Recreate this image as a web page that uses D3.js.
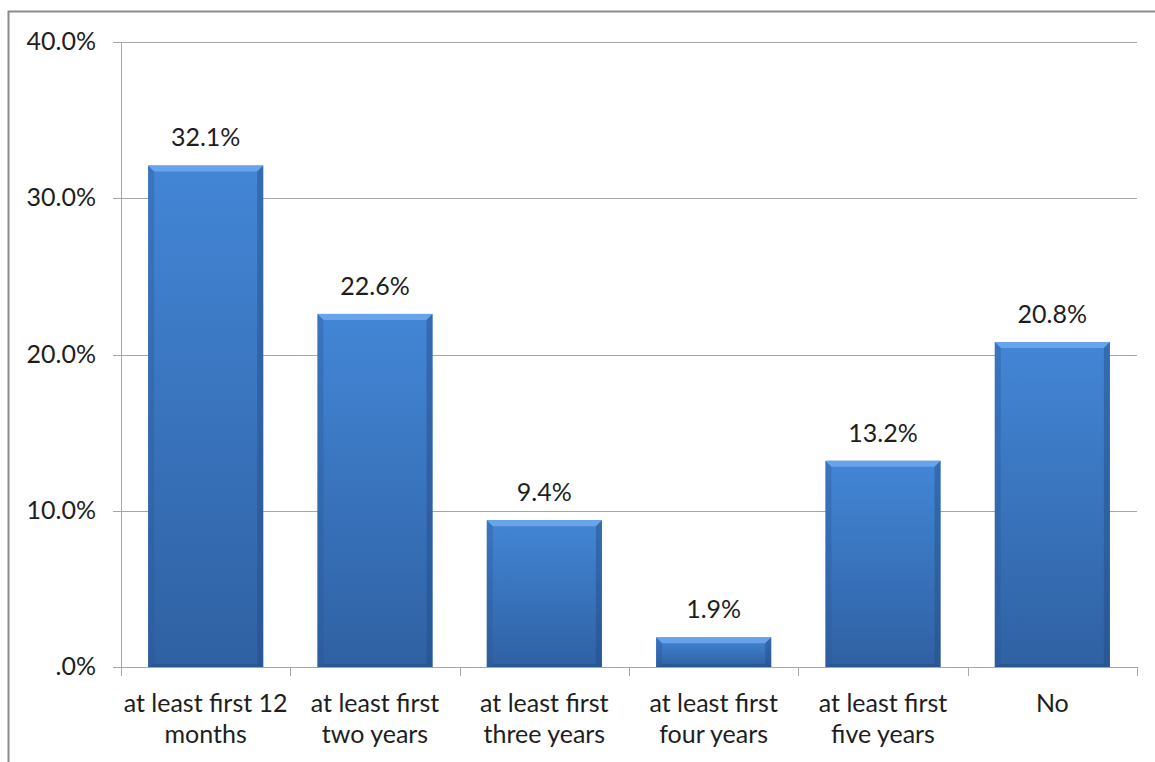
<!DOCTYPE html>
<html>
<head>
<meta charset="utf-8">
<script src="https://d3js.org/d3.v7.min.js"></script>
<style>
  body { margin: 0; background: #fff; }
  text { font-family: Lato, "Open Sans", sans-serif; fill: #1e1e1e; }
</style>
</head>
<body>
<div id="chart"></div>
<script>
const categories = [
  ["at least first 12", "months"],
  ["at least first", "two years"],
  ["at least first", "three years"],
  ["at least first", "four years"],
  ["at least first", "five years"],
  ["No"]
];
const values = [32.1, 22.6, 9.4, 1.9, 13.2, 20.8];
const tickValues = [0, 10, 20, 30, 40];
const tickLabels = [".0%", "10.0%", "20.0%", "30.0%", "40.0%"];

const w = 1155, h = 762;
const plotLeft = 121, plotRight = 1137, plotTop = 42, plotBottom = 667;
const fontSize = "25px";

const svg = d3.select("#chart").append("svg")
  .attr("width", w)
  .attr("height", h);

// chart frame (cropped at right/bottom)
svg.append("path")
  .attr("d", "M8.5," + h + " V11.5 H" + w)
  .attr("fill", "none")
  .attr("stroke", "#8c8c8c")
  .attr("stroke-width", 2);

const x = d3.scaleBand()
  .domain(d3.range(values.length))
  .range([plotLeft, plotRight])
  .paddingInner(0.32)
  .paddingOuter(0.16);

const y = d3.scaleLinear()
  .domain([0, 40])
  .range([plotBottom, plotTop]);

const defs = svg.append("defs");
const grad = defs.append("linearGradient")
  .attr("id", "barGrad")
  .attr("x1", 0).attr("y1", 0).attr("x2", 0).attr("y2", 1);
grad.append("stop").attr("offset", "0%").attr("stop-color", "#4386d6");
grad.append("stop").attr("offset", "100%").attr("stop-color", "#2f61a3");

// gridlines
svg.append("g").selectAll("line")
  .data(tickValues)
  .enter().append("line")
  .attr("x1", plotLeft - 8)
  .attr("x2", plotRight)
  .attr("y1", d => Math.round(y(d)) + 0.5)
  .attr("y2", d => Math.round(y(d)) + 0.5)
  .attr("stroke", "#a6a6a6")
  .attr("stroke-width", 1);

// y axis line
svg.append("line")
  .attr("x1", plotLeft + 0.5).attr("x2", plotLeft + 0.5)
  .attr("y1", plotTop).attr("y2", plotBottom + 0.5)
  .attr("stroke", "#a6a6a6");

// y labels
svg.append("g").selectAll("text")
  .data(tickValues)
  .enter().append("text")
  .attr("x", 96)
  .attr("y", d => y(d) + 8)
  .attr("text-anchor", "end")
  .style("font-size", fontSize)
  .text((d, i) => tickLabels[i]);

// x tick marks at category boundaries
const bounds = d3.range(values.length + 1).map(i => plotLeft + i * (plotRight - plotLeft) / values.length);
svg.append("g").selectAll("line")
  .data(bounds)
  .enter().append("line")
  .attr("x1", d => Math.round(d) + 0.5)
  .attr("x2", d => Math.round(d) + 0.5)
  .attr("y1", plotBottom)
  .attr("y2", plotBottom + 9)
  .attr("stroke", "#a6a6a6");

// bars
const bars = svg.append("g").selectAll("g")
  .data(values)
  .enter().append("g");

bars.append("rect")
  .attr("x", (d, i) => x(i))
  .attr("y", d => y(d))
  .attr("width", x.bandwidth())
  .attr("height", d => plotBottom - y(d))
  .attr("fill", "url(#barGrad)");

const bev = 6;
// top bevel
bars.append("polygon")
  .attr("points", (d, i) => {
    const x0 = x(i), x1 = x(i) + x.bandwidth(), yt = y(d);
    return [[x0, yt], [x1, yt], [x1 - bev, yt + bev], [x0 + bev, yt + bev]].join(" ");
  })
  .attr("fill", "#6ea8ee")
  .attr("opacity", 0.85);
// left bevel
bars.append("polygon")
  .attr("points", (d, i) => {
    const x0 = x(i), yt = y(d);
    return [[x0, yt], [x0 + bev, yt + bev], [x0 + bev, plotBottom - 3], [x0, plotBottom]].join(" ");
  })
  .attr("fill", "#2a5694")
  .attr("opacity", 0.35);
// right bevel
bars.append("polygon")
  .attr("points", (d, i) => {
    const x1 = x(i) + x.bandwidth(), yt = y(d);
    return [[x1, yt], [x1 - bev, yt + bev], [x1 - bev, plotBottom - 3], [x1, plotBottom]].join(" ");
  })
  .attr("fill", "#234b84")
  .attr("opacity", 0.45);
// bottom bevel
bars.append("polygon")
  .attr("points", (d, i) => {
    const x0 = x(i), x1 = x(i) + x.bandwidth();
    return [[x0, plotBottom], [x1, plotBottom], [x1 - bev, plotBottom - 3], [x0 + bev, plotBottom - 3]].join(" ");
  })
  .attr("fill", "#24508a")
  .attr("opacity", 0.6);

// value labels
bars.append("text")
  .attr("x", (d, i) => x(i) + x.bandwidth() / 2)
  .attr("y", d => y(d) - 19)
  .attr("text-anchor", "middle")
  .style("font-size", fontSize)
  .text(d => d.toFixed(1) + "%");

// category labels
const cat = svg.append("g").selectAll("text")
  .data(categories)
  .enter().append("text")
  .attr("text-anchor", "middle")
  .style("font-size", fontSize);
cat.selectAll("tspan")
  .data((d, i) => d.map(t => ({ t: t, i: i })))
  .enter().append("tspan")
  .attr("x", d => x(d.i) + x.bandwidth() / 2)
  .attr("y", (d, j) => 712 + j * 31)
  .text(d => d.t);
</script>
</body>
</html>
